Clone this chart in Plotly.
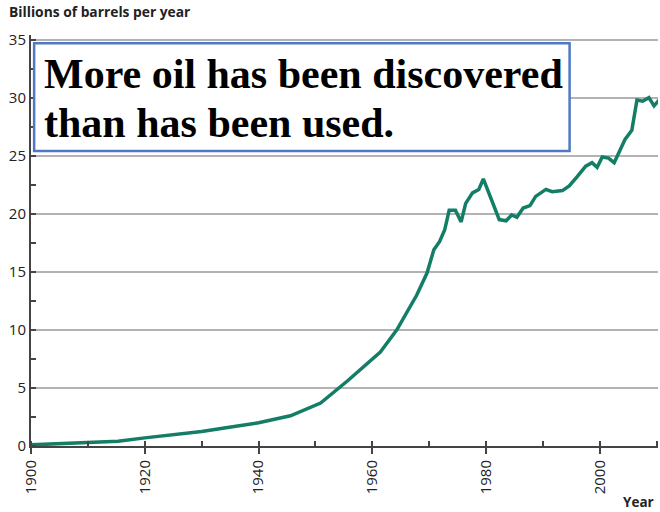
import plotly.graph_objects as go

# Annual oil discovery/production curve, billions of barrels per year
year = [1900, 1905, 1910, 1915.3, 1920, 1925, 1930, 1936, 1940, 1945.6,
        1950.9, 1955.6, 1961.4, 1964.3, 1967.8, 1969.6, 1970.8, 1971.8, 1972.7,
        1973.5, 1974.6, 1975.6, 1976.4, 1977.6, 1978.7, 1979.5, 1982.3, 1983.5,
        1984.5, 1985.4, 1986.5, 1987.7, 1988.7, 1990.5, 1991.6, 1993.4, 1994.6,
        1996.0, 1997.5, 1998.6, 1999.5, 2000.4, 2001.5, 2002.5, 2004.4, 2005.6,
        2006.5, 2007.5, 2008.6, 2009.5, 2010.4]
barrels = [0.1, 0.2, 0.3, 0.4, 0.7, 1.0, 1.25, 1.7, 2.0, 2.6,
           3.7, 5.6, 8.1, 10.0, 13.0, 14.9, 16.9, 17.6, 18.6,
           20.3, 20.3, 19.3, 20.9, 21.8, 22.1, 23.0, 19.5, 19.4,
           19.9, 19.7, 20.5, 20.7, 21.5, 22.1, 21.9, 22.0, 22.4,
           23.2, 24.1, 24.4, 24.0, 24.9, 24.8, 24.4, 26.4, 27.2,
           29.8, 29.7, 30.0, 29.3, 29.8]

x_ticks = [1900, 1920, 1940, 1960, 1980, 2000]
y_ticks = [0, 5, 10, 15, 20, 25, 30, 35]
message = ["More oil has been discovered", "than has been used."]

sans = "Open Sans"
fig = go.Figure()
fig.add_trace(go.Scatter(
    x=year, y=barrels, mode="lines",
    line=dict(color="#137d66", width=3.5),
    hoverinfo="skip", showlegend=False,
))

fig.update_layout(
    width=660, height=512,
    margin=dict(l=31, r=2, t=35, b=66),
    paper_bgcolor="white", plot_bgcolor="white",
    font=dict(family=sans, size=15, color="#222"),
    xaxis=dict(
        range=[1900, 2010.2], tickvals=x_ticks, ticktext=[str(v) for v in x_ticks],
        tickangle=-90, showgrid=False, zeroline=False,
        showline=True, linecolor="#444", linewidth=2,
        ticks="outside", ticklen=6, tickwidth=1.5, tickcolor="#444",
        minor=dict(dtick=10, tick0=1900, ticks="inside", ticklen=5,
                   tickwidth=1.5, tickcolor="#444"),
        tickfont=dict(family=sans, size=15, color="#222"),
    ),
    yaxis=dict(
        range=[0, 35.4], tickvals=y_ticks, showgrid=True,
        gridcolor="#b3b3b3", gridwidth=1.5, zeroline=False,
        showline=True, linecolor="#444", linewidth=2,
        ticks="", ticklen=0,
        minor=dict(dtick=2.5, tick0=0, ticks="inside", ticklen=5,
                   tickwidth=1.5, tickcolor="#444", showgrid=False),
        tickfont=dict(family=sans, size=15, color="#222"),
    ),
    shapes=[dict(
        type="rect", xref="paper", yref="paper",
        x0=0.005, x1=0.859, y0=0.718, y1=0.98,
        line=dict(color="#4f79c4", width=2.5), fillcolor="white", layer="above",
    )],
    annotations=[
        dict(text="<b>Billions of barrels per year</b>", xref="paper", yref="paper",
             x=-0.038, y=1.0, yshift=12, xanchor="left", yanchor="bottom",
             showarrow=False, font=dict(family=sans, size=13.8, color="#222")),
        dict(text="<b>Year</b>", xref="paper", yref="paper",
             x=0.997, y=0, yshift=-56, xanchor="right", yanchor="middle",
             showarrow=False, font=dict(family=sans, size=13.5, color="#222")),
    ] + [
        dict(text="<b>%s</b>" % line, xref="paper", yref="paper",
             x=0.018, y=yy, xanchor="left", yanchor="middle", align="left",
             showarrow=False,
             font=dict(family="Liberation Serif", size=42, color="black"))
        for line, yy in zip(message, [0.905, 0.787])
    ],
)

fig.write_html("out.html")
